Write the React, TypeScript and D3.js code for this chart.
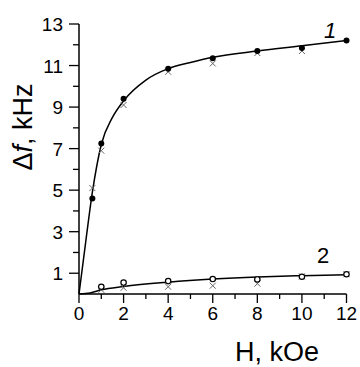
import React from "react";
import * as d3 from "d3";

const W = 360;
const H = 367;

// Series 1 (filled circles and crosses)
const s1H = [0.6, 1, 2, 4, 6, 8, 10, 12];
const s1Circles = [4.6, 7.25, 9.4, 10.85, 11.35, 11.7, 11.85, 12.2];
const s1CrossH = [0.6, 1, 2, 4, 6, 8, 10];
const s1Crosses = [5.1, 6.9, 9.1, 10.7, 11.1, 11.6, 11.7];
// Fitted curve 1
const fit1H = [0, 0.3, 0.6, 1, 1.5, 2, 3, 4, 5, 6, 8, 10, 12];
const fit1V = [0, 2.5, 4.9, 7.2, 8.5, 9.3, 10.3, 10.85, 11.15, 11.4, 11.7, 11.95, 12.2];

// Series 2 (open circles and crosses)
const s2H = [1, 2, 4, 6, 8, 10, 12];
const s2Circles = [0.35, 0.55, 0.62, 0.72, 0.7, 0.83, 0.95];
const s2Crosses = [0.2, 0.3, 0.35, 0.4, 0.5, 0.85, 0.95];
// Fitted curve 2
const fit2H = [0, 0.5, 1, 2, 4, 6, 8, 10, 12];
const fit2V = [0, 0.05, 0.2, 0.36, 0.57, 0.72, 0.82, 0.88, 0.93];

const xMajor = [0, 2, 4, 6, 8, 10, 12];
const xMinor = [1, 3, 5, 7, 9, 11];
const yMajor = [1, 3, 5, 7, 9, 11, 13];
const yMinor = [2, 4, 6, 8, 10, 12];

export default function App() {
  const x = d3.scaleLinear().domain([0, 12]).range([79, 346.5]);
  const y = d3.scaleLinear().domain([0, 13]).range([294, 24]);
  const line = d3
    .line<[number, number]>()
    .x((d) => x(d[0]))
    .y((d) => y(d[1]))
    .curve(d3.curveMonotoneX);
  const fit1 = fit1H.map((h, i) => [h, fit1V[i]] as [number, number]);
  const fit2 = fit2H.map((h, i) => [h, fit2V[i]] as [number, number]);
  const font = "Arial, 'Liberation Sans', sans-serif";
  const cross = (cx: number, cy: number, k: string) => (
    <g key={k} stroke="#666" strokeWidth={1}>
      <line x1={cx - 3} y1={cy - 3} x2={cx + 3} y2={cy + 3} />
      <line x1={cx - 3} y1={cy + 3} x2={cx + 3} y2={cy - 3} />
    </g>
  );
  return (
    <svg
      width={W}
      height={H}
      style={{ position: "absolute", left: 0, top: 0, background: "#fff" }}
      fontFamily={font}
    >
      <rect width={W} height={H} fill="#fff" />
      {/* axes */}
      <line x1={x(0)} y1={y(13)} x2={x(0)} y2={y(0)} stroke="#000" strokeWidth={1.5} />
      <line x1={x(0)} y1={y(0)} x2={x(12)} y2={y(0)} stroke="#000" strokeWidth={1.5} />
      {yMajor.map((v) => (
        <g key={"ym" + v}>
          <line x1={x(0) - 10} x2={x(0)} y1={y(v)} y2={y(v)} stroke="#000" strokeWidth={1.3} />
          <text x={63} y={y(v) + 7} fontSize={19} textAnchor="end" fill="#000">
            {v}
          </text>
        </g>
      ))}
      {yMinor.map((v) => (
        <line key={"yn" + v} x1={x(0) - 6} x2={x(0)} y1={y(v)} y2={y(v)} stroke="#000" strokeWidth={1.3} />
      ))}
      {xMajor.map((v) => (
        <g key={"xm" + v}>
          <line x1={x(v)} x2={x(v)} y1={y(0)} y2={y(0) + 9} stroke="#000" strokeWidth={1.3} />
          <text x={x(v)} y={320} fontSize={19} textAnchor="middle" fill="#000">
            {v}
          </text>
        </g>
      ))}
      {xMinor.map((v) => (
        <line key={"xn" + v} x1={x(v)} x2={x(v)} y1={y(0)} y2={y(0) + 5} stroke="#000" strokeWidth={1.3} />
      ))}
      {/* axis titles */}
      <text x={235} y={361} fontSize={27} fill="#000">
        H, kOe
      </text>
      <text
        transform={`translate(32,127) rotate(-90)`}
        fontSize={27}
        textAnchor="middle"
        fill="#000"
      >
        Δ<tspan fontStyle="italic">f</tspan>, kHz
      </text>
      {/* curves */}
      <path d={line(fit1) || ""} fill="none" stroke="#000" strokeWidth={1.5} />
      <path d={line(fit2) || ""} fill="none" stroke="#000" strokeWidth={1.5} />
      {/* series 1 markers */}
      {s1CrossH.map((h, i) => cross(x(h), y(s1Crosses[i]), "c1" + i))}
      {s1H.map((h, i) => (
        <circle key={"p1" + i} cx={x(h)} cy={y(s1Circles[i])} r={3} fill="#000" />
      ))}
      {/* series 2 markers */}
      {s2H.map((h, i) => cross(x(h), y(s2Crosses[i]), "c2" + i))}
      {s2H.map((h, i) => (
        <circle key={"p2" + i} cx={x(h)} cy={y(s2Circles[i])} r={2.7} fill="#fff" stroke="#000" strokeWidth={1.2} />
      ))}
      {/* curve labels */}
      <text x={324} y={38} fontSize={22} fontStyle="italic" fill="#000">
        1
      </text>
      <text x={317} y={263} fontSize={22} fill="#000">
        2
      </text>
    </svg>
  );
}
